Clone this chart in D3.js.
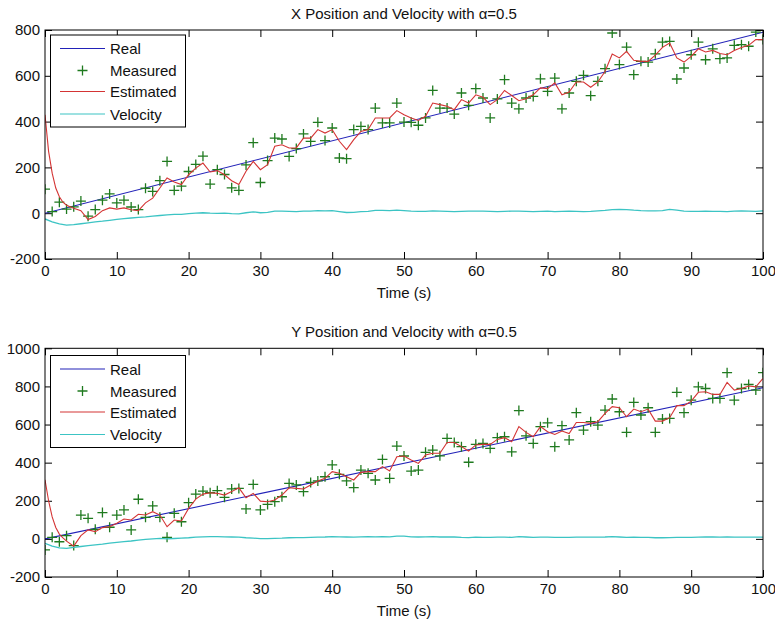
<!DOCTYPE html>
<html>
<head>
<meta charset="utf-8">
<script src="https://cdn.jsdelivr.net/npm/d3@7"></script>
<style>
  body { margin: 0; background: #fff; }
  svg text { font-family: "Liberation Sans", Arial, sans-serif; font-size: 15px; fill: #111; }
</style>
</head>
<body>
<div id="chart"></div>
<script>
// time in seconds, one sample per second
const time = d3.range(0, 101);
// estimate has a few extra samples during the first seconds
const estTime = [0, 0.5, 1, 1.5, 2, 2.5, 3].concat(d3.range(4, 101));
const realTime = [0, 100];

const realX = [0, 790];
const measX = [105, 7, 48, 18, 28, 53, -13, 16, 57, 84, 45, 57, 27, 16, 109, 95, 142, 226, 100, 118,
  182, 213, 249, 127, 190, 169, 111, 100, 211, 308, 134, 230, 328, 324, 248, 282, 346, 314, 397, 317,
  372, 241, 238, 365, 379, 365, 459, 394, 394, 481, 398, 397, 384, 416, 536, 459, 459, 433, 525, 471,
  544, 503, 416, 499, 583, 481, 456, 503, 510, 587, 532, 590, 456, 525, 576, 602, 513, 576, 631, 787,
  649, 725, 605, 663, 660, 696, 747, 750, 586, 634, 692, 747, 670, 718, 675, 678, 733, 736, 729, 791, 758];
const estX = [430, 270, 175, 110, 72, 48, 35,
  22, 11, -28, -14, 11, 23, 18, 23, 15, 11, 45, 66, 110, 154, 136, 125, 168, 197, 219, 180, 186, 168,
  142, 125, 183, 226, 190, 212, 292, 299, 285, 285, 328, 328, 365, 350, 365, 314, 278, 321, 357, 365,
  416, 416, 416, 448, 430, 416, 405, 423, 481, 474, 467, 452, 496, 481, 517, 506, 474, 496, 536, 514,
  491, 500, 517, 547, 544, 569, 517, 529, 573, 573, 550, 573, 619, 695, 678, 707, 668, 663, 663, 690,
  724, 743, 678, 660, 685, 718, 704, 711, 697, 692, 710, 724, 733, 758, 758];
const velX = [-25, -38, -47, -52, -50, -46, -42, -38, -35, -31, -27, -24, -21, -18, -16, -13, -10, -7, -5, -5,
  -2, 0, 2, 0, -1, 0, -2, -3, 2, 6, 2, 4, 9, 9, 8, 7, 9, 9, 11, 10,
  11, 7, 3, 4, 7, 8, 12, 12, 11, 13, 11, 9, 8, 8, 10, 9, 8, 7, 8, 9,
  9, 9, 8, 7, 8, 9, 9, 8, 7, 8, 9, 7, 8, 9, 8, 7, 8, 10, 12, 16,
  17, 16, 13, 11, 10, 10, 11, 17, 13, 9, 8, 8, 9, 8, 8, 7, 9, 10, 9, 8, 10];

const realY = [0, 793];
const measY = [-58, 8, -15, 17, -35, 125, 108, 50, 138, 61, 125, 152, 47, 208, 113, 173, 113, 8, 134, 90,
  190, 235, 251, 242, 253, 218, 262, 265, 157, 286, 152, 181, 195, 221, 291, 283, 248, 296, 304, 326,
  388, 339, 304, 269, 361, 344, 309, 417, 318, 487, 435, 356, 361, 454, 466, 436, 527, 506, 484, 402,
  496, 501, 475, 531, 536, 457, 673, 541, 501, 589, 609, 484, 594, 519, 662, 571, 615, 597, 676, 734,
  667, 559, 716, 650, 688, 559, 629, 632, 769, 662, 728, 798, 789, 737, 737, 872, 728, 789, 810, 781, 872];
const estY = [310, 200, 115, 60, 25, 5, -12,
  -38, 17, 47, 38, 59, 64, 82, 104, 99, 129, 125, 143, 125, 64, 99, 94, 160, 209, 235, 242, 239, 230,
  248, 268, 216, 239, 198, 195, 204, 230, 268, 265, 262, 283, 304, 318, 353, 344, 326, 309, 349, 353,
  353, 379, 356, 431, 435, 414, 396, 440, 449, 449, 506, 506, 484, 461, 493, 496, 496, 522, 531, 510,
  589, 559, 536, 589, 562, 548, 566, 553, 611, 611, 606, 615, 659, 694, 688, 641, 681, 667, 681, 618,
  618, 636, 699, 699, 723, 769, 772, 758, 758, 821, 781, 789, 802, 798, 842];
const velY = [-23, -38, -47, -50, -45, -40, -35, -31, -27, -22, -18, -14, -11, -7, -3, 0, 3, 0, 2, 4,
  6, 9, 11, 12, 12, 11, 10, 9, 6, 4, 1, 1, 3, 4, 6, 7, 7, 8, 9, 10,
  12, 11, 10, 9, 11, 12, 11, 12, 11, 14, 14, 11, 10, 11, 12, 10, 11, 10, 8, 7,
  9, 8, 8, 9, 9, 8, 12, 10, 8, 9, 9, 8, 8, 8, 9, 9, 9, 9, 10, 12,
  10, 8, 9, 8, 8, 6, 6, 7, 8, 8, 8, 9, 10, 10, 9, 11, 9, 9, 9, 9, 9];

const xTicks = [0, 10, 20, 30, 40, 50, 60, 70, 80, 90, 100];
const yTicksTop = [-200, 0, 200, 400, 600, 800];
const yTicksBottom = [-200, 0, 200, 400, 600, 800, 1000];
const legendNames = ["Real", "Measured", "Estimated", "Velocity"];

const colors = { real: "#2222b8", meas: "#1f7a1f", est: "#d43434", vel: "#3cc4c4" };

const svg = d3.select("#chart").append("svg")
  .attr("width", 775)
  .attr("height", 623);

// plain hyphen minus, no thousands separator
const fmt = d => String(d);

function drawPanel(p) {
  const x = d3.scaleLinear().domain([0, 100]).range([45, 763]);
  const y = d3.scaleLinear().domain(p.yDomain).range([p.bottom, p.top]);
  const g = svg.append("g");

  const clipId = "clip" + p.id;
  g.append("clipPath").attr("id", clipId)
    .append("rect")
    .attr("x", 45).attr("y", p.top)
    .attr("width", 718).attr("height", p.bottom - p.top);

  // axes, ticks pointing inward
  g.append("g").attr("transform", "translate(0," + p.bottom + ")")
    .call(d3.axisBottom(x).tickValues(xTicks).tickFormat(fmt).tickSize(-7).tickSizeOuter(0).tickPadding(6));
  g.append("g").attr("transform", "translate(0," + p.top + ")")
    .call(d3.axisTop(x).tickValues(xTicks).tickSize(-7).tickSizeOuter(0).tickFormat(""));
  g.append("g").attr("transform", "translate(45,0)")
    .call(d3.axisLeft(y).tickValues(p.yTicks).tickFormat(fmt).tickSize(-7).tickSizeOuter(0).tickPadding(5));
  g.append("g").attr("transform", "translate(763,0)")
    .call(d3.axisRight(y).tickValues(p.yTicks).tickSize(-7).tickSizeOuter(0).tickFormat(""));
  g.selectAll(".domain").remove();
  g.selectAll(".tick line").attr("stroke", "#000");
  g.selectAll(".tick text").style("font-size", "15px").attr("fill", "#111")
    .style("font-family", "'Liberation Sans', Arial, sans-serif");

  const plot = g.append("g").attr("clip-path", "url(#" + clipId + ")");

  const line = d3.line().x(d => x(d[0])).y(d => y(d[1]));

  plot.append("path")
    .datum(realTime.map((t, i) => [t, p.real[i]]))
    .attr("d", line)
    .attr("fill", "none")
    .attr("stroke", colors.real)
    .attr("stroke-width", 1.1);

  plot.selectAll(".meas")
    .data(time.map((t, i) => [t, p.meas[i]]))
    .enter().append("path")
    .attr("class", "meas")
    .attr("d", d => {
      const cx = x(d[0]), cy = y(d[1]);
      return "M" + (cx - 5) + "," + cy + "H" + (cx + 5) + "M" + cx + "," + (cy - 5) + "V" + (cy + 5);
    })
    .attr("stroke", colors.meas)
    .attr("stroke-width", 1.3)
    .attr("fill", "none");

  plot.append("path")
    .datum(estTime.map((t, i) => [t, p.est[i]]))
    .attr("d", line)
    .attr("fill", "none")
    .attr("stroke", colors.est)
    .attr("stroke-width", 1.1);

  plot.append("path")
    .datum(time.map((t, i) => [t, p.vel[i]]))
    .attr("d", line)
    .attr("fill", "none")
    .attr("stroke", colors.vel)
    .attr("stroke-width", 1.3);

  // box
  g.append("rect")
    .attr("x", 45).attr("y", p.top)
    .attr("width", 718).attr("height", p.bottom - p.top)
    .attr("fill", "none")
    .attr("stroke", "#000")
    .attr("stroke-width", 1);

  // title and x label
  g.append("text")
    .attr("x", 404).attr("y", p.top - 17)
    .attr("text-anchor", "middle")
    .attr("dominant-baseline", "central")
    .text(p.title);
  g.append("text")
    .attr("x", 404).attr("y", p.bottom + 33)
    .attr("text-anchor", "middle")
    .attr("dominant-baseline", "central")
    .text("Time (s)");

  // legend
  const lg = g.append("g").attr("transform", "translate(50," + p.legendTop + ")");
  lg.append("rect")
    .attr("x", 0.5).attr("y", 0.5)
    .attr("width", 135).attr("height", 92)
    .attr("fill", "#fff")
    .attr("stroke", "#000");
  const rowY = [14, 36, 57, 79.5];
  const rowColor = [colors.real, colors.meas, colors.est, colors.vel];
  legendNames.forEach((name, i) => {
    if (i === 1) {
      lg.append("path")
        .attr("d", "M27.5," + rowY[i] + "H37.5M32.5," + (rowY[i] - 5) + "V" + (rowY[i] + 5))
        .attr("stroke", rowColor[i])
        .attr("stroke-width", 1.3);
    } else {
      lg.append("line")
        .attr("x1", 10).attr("x2", 55)
        .attr("y1", rowY[i]).attr("y2", rowY[i])
        .attr("stroke", rowColor[i])
        .attr("stroke-width", 1.2);
    }
    lg.append("text")
      .attr("x", 60).attr("y", rowY[i])
      .attr("dominant-baseline", "central")
      .text(name);
  });
}

drawPanel({
  id: 1, top: 30, bottom: 259, legendTop: 34.5,
  yDomain: [-200, 800], yTicks: yTicksTop,
  title: "X Position and Velocity with \u03b1=0.5",
  real: realX, meas: measX, est: estX, vel: velX
});

drawPanel({
  id: 2, top: 348.3, bottom: 577, legendTop: 355,
  yDomain: [-200, 1000], yTicks: yTicksBottom,
  title: "Y Position and Velocity with \u03b1=0.5",
  real: realY, meas: measY, est: estY, vel: velY
});
</script>
</body>
</html>
